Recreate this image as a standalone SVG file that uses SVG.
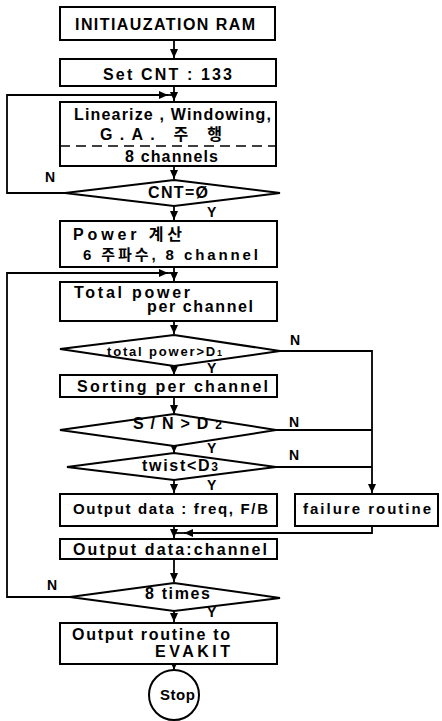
<svg xmlns="http://www.w3.org/2000/svg" width="442" height="721" viewBox="0 0 442 721">
<defs>
<style>
.box{fill:#fff;stroke:#000;stroke-width:2}
.ln{fill:none;stroke:#000;stroke-width:1.8}
.t{font-family:"Liberation Sans","Noto Sans CJK KR",sans-serif;font-weight:bold;font-size:16px;fill:#000}
.m{font-size:15px}
.s{font-family:"Liberation Sans","Noto Sans CJK KR",sans-serif;font-weight:bold;font-size:13px;fill:#000}
.lb{font-family:"Liberation Sans",sans-serif;font-weight:bold;font-size:14px;fill:#000}
</style>
<marker id="ah" markerWidth="10" markerHeight="10" refX="9" refY="5" orient="auto" markerUnits="userSpaceOnUse">
<path d="M0,1 L9,5 L0,9 Z" fill="#000"/>
</marker>
</defs>
<rect width="442" height="721" fill="#fff"/>
<g id="connectors">
<path class="ln" d="M174,40 V58" marker-end="url(#ah)"/>
<path class="ln" d="M174,86 V101" marker-end="url(#ah)"/>
<path class="ln" d="M65,193 H7 V95 H168" marker-end="url(#ah)"/>
<path class="ln" d="M166,95 H174"/>
<path class="ln" d="M174,166 V179" marker-end="url(#ah)"/>
<path class="ln" d="M174,205 V220" marker-end="url(#ah)"/>
<path class="ln" d="M70,597 H7 V273 H168" marker-end="url(#ah)"/>
<path class="ln" d="M166,273 H174"/>
<path class="ln" d="M174,267 V281" marker-end="url(#ah)"/>
<path class="ln" d="M174,321 V334" marker-end="url(#ah)"/>
<path class="ln" d="M174,366 V375" marker-end="url(#ah)"/>
<path class="ln" d="M174,397 V414" marker-end="url(#ah)"/>
<path class="ln" d="M174,446 V453" marker-end="url(#ah)"/>
<path class="ln" d="M174,480 V493" marker-end="url(#ah)"/>
<path class="ln" d="M280,351 H372 V493" marker-end="url(#ah)"/>
<path class="ln" d="M276,430 H372"/>
<path class="ln" d="M276,467 H372"/>
<path class="ln" d="M174,526 V538" marker-end="url(#ah)"/>
<path class="ln" d="M372,526 V533 H184" marker-end="url(#ah)"/>
<path class="ln" d="M184,533 H174"/>
<path class="ln" d="M174,559 V582" marker-end="url(#ah)"/>
<path class="ln" d="M174,611 V622" marker-end="url(#ah)"/>
<path class="ln" d="M174,664 V670" marker-end="url(#ah)"/>
</g>
<g id="init">
<rect class="box" x="60" y="7" width="215" height="33"/>
<text class="t" x="75" y="30" textLength="180" lengthAdjust="spacing">INITIAUZATION RAM</text>
</g>
<g id="setcnt">
<rect class="box" x="60" y="59" width="216" height="27"/>
<text class="t" x="103" y="80" textLength="129" lengthAdjust="spacing">Set CNT : 133</text>
</g>
<g id="linearize">
<rect class="box" x="60" y="102" width="216" height="64"/>
<text class="t" x="74" y="120" textLength="197" lengthAdjust="spacing">Linearize , Windowing,</text>
<text class="t" x="100" y="140" textLength="122" lengthAdjust="spacing">G.A. 주 행</text>
<line x1="60" y1="146" x2="276" y2="146" stroke="#000" stroke-width="1.5" stroke-dasharray="10,6"/>
<text class="t" x="125" y="162" textLength="93" lengthAdjust="spacing">8 channels</text>
</g>
<g id="cnt0">
<polygon class="box" points="174,180 280,193 174,206 65,193"/>
<text class="t" x="148" y="198" textLength="60" lengthAdjust="spacing">CNT=Ø</text>
<text class="lb" x="45" y="182">N</text>
<text class="lb" x="207" y="217">Y</text>
</g>
<g id="power">
<rect class="box" x="60" y="221" width="217" height="46"/>
<text class="t" x="73" y="240" textLength="109" lengthAdjust="spacing">Power 계산</text>
<text class="t m" x="83" y="260" textLength="175" lengthAdjust="spacing">6 주파수, 8 channel</text>
</g>
<g id="totalpower">
<rect class="box" x="60" y="282" width="217" height="39"/>
<text class="t" x="74" y="298" textLength="116" lengthAdjust="spacing">Total power</text>
<text class="t" x="147" y="312" textLength="106" lengthAdjust="spacing">per channel</text>
</g>
<g id="d1">
<polygon class="box" points="174,335 280,351 174,366 60,349"/>
<text class="s" x="107" y="356" textLength="115" lengthAdjust="spacing">total power&gt;D<tspan font-size="9">1</tspan></text>
<text class="lb" x="290" y="345">N</text>
<text class="lb" x="207" y="373">Y</text>
</g>
<g id="sorting">
<rect class="box" x="60" y="375" width="217" height="22"/>
<text class="t" x="77" y="392" textLength="191" lengthAdjust="spacing">Sorting per channel</text>
</g>
<g id="d2">
<polygon class="box" points="174,414 276,430 174,446 60,430"/>
<text class="t" x="133" y="429" textLength="89" lengthAdjust="spacing">S/N&gt;D<tspan font-size="12">2</tspan></text>
<text class="lb" x="289" y="427">N</text>
<text class="lb" x="207" y="453">Y</text>
</g>
<g id="d3">
<polygon class="box" points="174,453 276,467 174,480 67,467"/>
<text class="t" x="142" y="471" textLength="76" lengthAdjust="spacing">twist&lt;D<tspan font-size="12">3</tspan></text>
<text class="lb" x="289" y="460">N</text>
<text class="lb" x="207" y="490">Y</text>
</g>
<g id="outfreq">
<rect class="box" x="60" y="494" width="217" height="32"/>
<text class="t m" x="73" y="514" textLength="195" lengthAdjust="spacing">Output data : freq, F/B</text>
</g>
<g id="failure">
<rect class="box" x="295" y="494" width="143" height="32"/>
<text class="t m" x="303" y="514" textLength="128" lengthAdjust="spacing">failure routine</text>
</g>
<g id="outchannel">
<rect class="box" x="60" y="539" width="217" height="20"/>
<text class="t" x="73" y="555" textLength="194" lengthAdjust="spacing">Output data:channel</text>
</g>
<g id="times8">
<polygon class="box" points="174,583 280,598 174,611 70,597"/>
<text class="t" x="145" y="599" textLength="65" lengthAdjust="spacing">8 times</text>
<text class="lb" x="47" y="590">N</text>
<text class="lb" x="207" y="617">Y</text>
</g>
<g id="evakit">
<rect class="box" x="60" y="623" width="217" height="41"/>
<text class="t" x="72" y="640" textLength="158" lengthAdjust="spacing">Output routine to</text>
<text class="t" x="155" y="657" textLength="75" lengthAdjust="spacing">EVAKIT</text>
</g>
<g id="stop">
<circle class="box" cx="174" cy="695" r="25"/>
<text class="t m" x="160" y="700" textLength="35" lengthAdjust="spacing">Stop</text>
</g>
</svg>
